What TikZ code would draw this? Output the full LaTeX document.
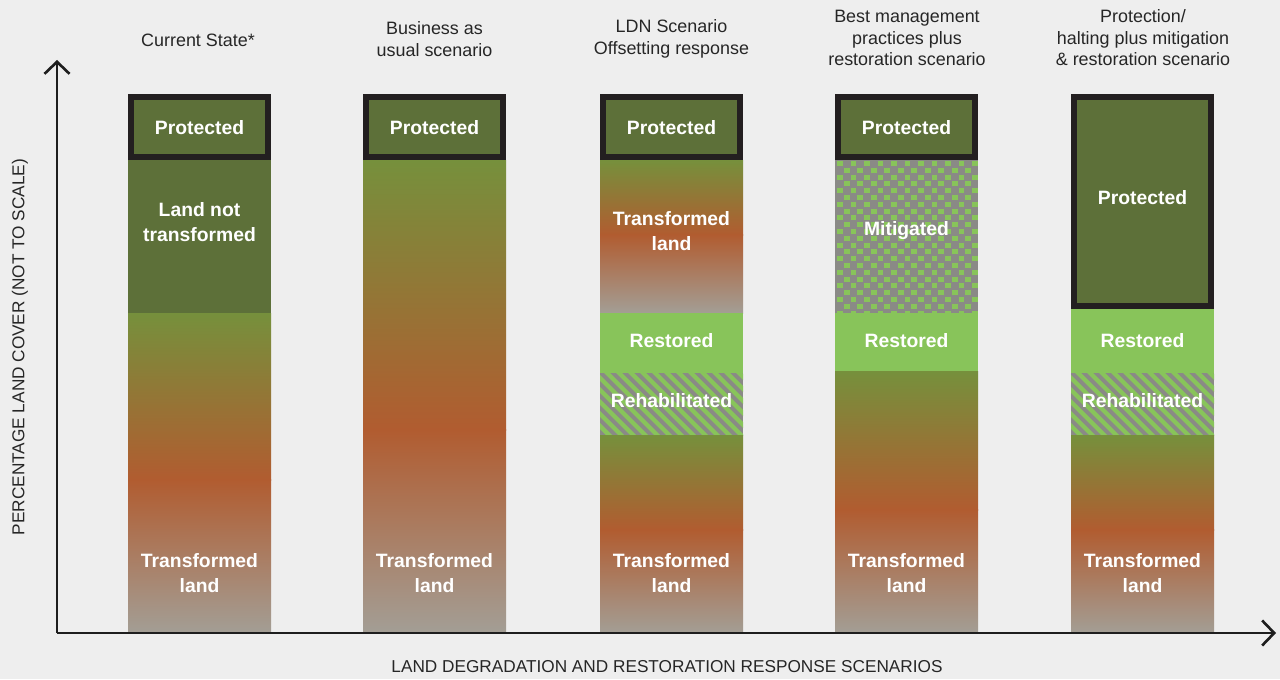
\documentclass[tikz,border=0pt]{standalone}
\usepackage{fontspec}
\setmainfont{Liberation Sans}
\usetikzlibrary{arrows.meta}
\definecolor{PaperGray}{HTML}{EEEEEE}
\definecolor{ProtGreen}{HTML}{5D7039}
\definecolor{LandGreen}{HTML}{76903C}
\definecolor{LandBrown}{HTML}{B15C30}
\definecolor{LandGray}{HTML}{A39E95}
\definecolor{RestGreen}{HTML}{88C45A}
\definecolor{PatGray}{HTML}{8A8A86}
\definecolor{FrameBlack}{HTML}{231F20}
\definecolor{AxisBlack}{HTML}{1E1E1E}

\begin{document}
\begin{tikzpicture}[x=0.02cm,y=-0.02cm,
    band/.style={font=\bfseries\fontsize{11}{14.5}\selectfont,text=white,align=center,inner sep=0pt},
    heading/.style={font=\fontsize{10.2}{12.2}\selectfont,text=black!85,align=center,inner sep=0pt},
    axlabel/.style={font=\fontsize{9.8}{12}\selectfont,text=black!85,inner sep=0pt},
    frame/.style={draw=FrameBlack,line width=0.12cm,fill=ProtGreen},
    axis/.style={-{Straight Barb[length=2.4mm,width=5mm]},line width=1.5pt,draw=AxisBlack}
  ]
  \fill[PaperGray] (0,0) rectangle (1280,679);
  \useasboundingbox (0,0) rectangle (1280,679);

  % column 1: current state
  \fill[ProtGreen] (128,160) rectangle (271,313);
  \shade[top color=LandGreen,bottom color=LandBrown] (128,313) rectangle (271,480);
  \shade[top color=LandBrown,bottom color=LandGray] (128,479.5) rectangle (271,633);
  \draw[frame] (131,97) rectangle (268,157);

  % column 2: business as usual
  \shade[top color=LandGreen,bottom color=LandBrown] (363,160) rectangle (506,430);
  \shade[top color=LandBrown,bottom color=LandGray] (363,429.5) rectangle (506,633);
  \draw[frame] (366,97) rectangle (503,157);

  % column 3: LDN offsetting
  \shade[top color=LandGreen,bottom color=LandBrown] (600,160) rectangle (743,235);
  \shade[top color=LandBrown,bottom color=LandGray] (600,234.5) rectangle (743,313);
  \fill[RestGreen] (600,313) rectangle (743,373);
  \begin{scope}
    \clip (600,373) rectangle (743,435);
    \fill[PatGray] (600,373) rectangle (743,435);
    \foreach \s in {-84,-72,...,156}
      \draw[RestGreen,line width=0.085cm] (600+\s,366) -- ++(76,76);
  \end{scope}
  \shade[top color=LandGreen,bottom color=LandBrown] (600,435) rectangle (743,530);
  \shade[top color=LandBrown,bottom color=LandGray] (600,529.5) rectangle (743,633);
  \draw[frame] (603,97) rectangle (740,157);

  % column 4: best management practices
  \begin{scope}
    \clip (835,160) rectangle (978,313);
    \fill[PatGray] (835,160) rectangle (978,313);
    \foreach \r in {0,...,22}
      \foreach \c in {0,...,11} {
        \pgfmathsetmacro{\sqx}{837+13.5*\c+6.75*mod(\r,2)}
        \pgfmathsetmacro{\sqy}{161+6.8*\r}
        \fill[RestGreen] (\sqx,\sqy) rectangle ++(5.8,5);
      }
  \end{scope}
  \fill[RestGreen] (835,313) rectangle (978,371);
  \shade[top color=LandGreen,bottom color=LandBrown] (835,371) rectangle (978,510);
  \shade[top color=LandBrown,bottom color=LandGray] (835,509.5) rectangle (978,633);
  \draw[frame] (838,97) rectangle (975,157);

  % column 5: protection, mitigation and restoration
  \draw[frame] (1074,97) rectangle (1211,306);
  \fill[RestGreen] (1071,309) rectangle (1214,373);
  \begin{scope}
    \clip (1071,373) rectangle (1214,435);
    \fill[PatGray] (1071,373) rectangle (1214,435);
    \foreach \s in {-84,-72,...,156}
      \draw[RestGreen,line width=0.085cm] (1071+\s,366) -- ++(76,76);
  \end{scope}
  \shade[top color=LandGreen,bottom color=LandBrown] (1071,435) rectangle (1214,530);
  \shade[top color=LandBrown,bottom color=LandGray] (1071,529.5) rectangle (1214,633);

  % band labels
  \node[band] (p1) at (199.5,128) {Protected};
  \node[band] (lnt) at (199.5,222) {Land not\\transformed};
  \node[band] (t1) at (199.5,573) {Transformed\\land};
  \node[band] (p2) at (434.5,128) {Protected};
  \node[band] (t2) at (434.5,573) {Transformed\\land};
  \node[band] (p3) at (671.5,128) {Protected};
  \node[band] (tt3) at (671.5,231) {Transformed\\land};
  \node[band] (res3) at (671.5,341) {Restored};
  \node[band] (reh3) at (671.5,401) {Rehabilitated};
  \node[band] (t3) at (671.5,573) {Transformed\\land};
  \node[band] (p4) at (906.5,128) {Protected};
  \node[band] (mit4) at (906.5,231) {Mitigated};
  \node[band] (res4) at (906.5,341) {Restored};
  \node[band] (t4) at (906.5,573) {Transformed\\land};
  \node[band] (p5) at (1142.5,198) {Protected};
  \node[band] (res5) at (1142.5,341) {Restored};
  \node[band] (reh5) at (1142.5,401) {Rehabilitated};
  \node[band] (t5) at (1142.5,573) {Transformed\\land};

  % scenario headings
  \node[heading] (h1) at (198,40) {Current State*};
  \node[heading] (h2) at (434.5,39) {Business as\\usual scenario};
  \node[heading] (h3) at (671.5,39) {LDN Scenario\\Offsetting response};
  \node[heading] (h4) at (907,38) {Best management\\practices plus\\restoration scenario};
  \node[heading] (h5) at (1143,38) {Protection/\\halting plus mitigation\\\& restoration scenario};

  % axes
  \coordinate (origin) at (57,633);
  \coordinate (ytip) at (57,60);
  \coordinate (xtip) at (1276,633);
  \draw[axis] (origin) -- (ytip);
  \draw[axis] (origin) -- (xtip);
  \node[axlabel] (xlab) at (667,667) {LAND DEGRADATION AND RESTORATION RESPONSE SCENARIOS};
  \node[axlabel,rotate=90] (ylab) at (20,347) {PERCENTAGE LAND COVER (NOT TO SCALE)};
\end{tikzpicture}
\end{document}
